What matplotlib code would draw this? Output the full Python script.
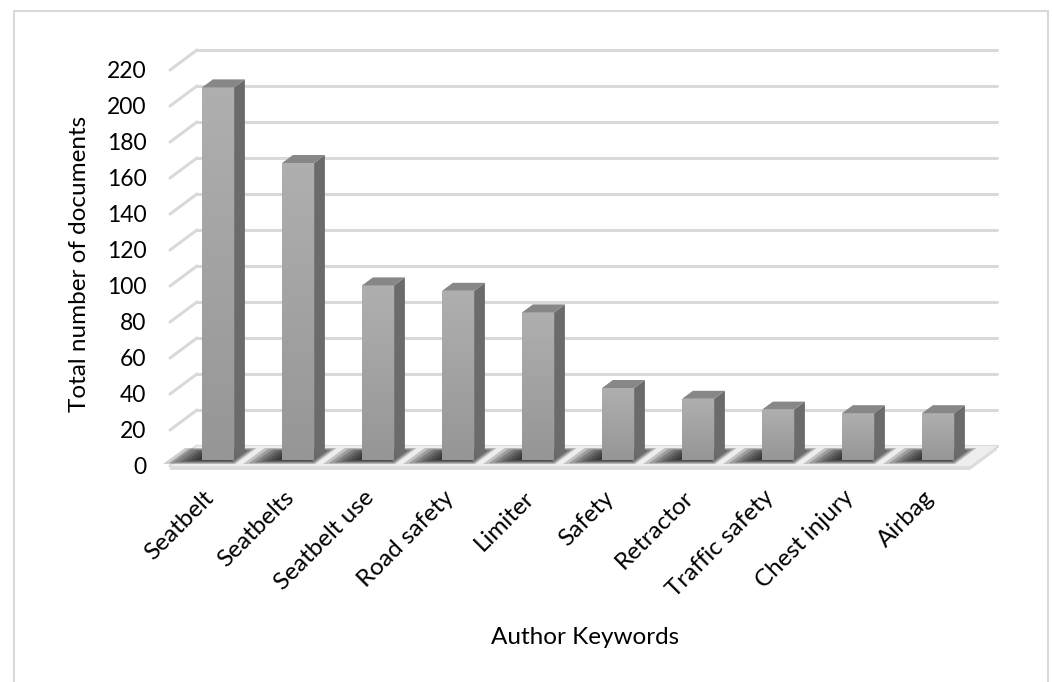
import matplotlib
matplotlib.use("Agg")
import matplotlib.pyplot as plt
import matplotlib.patches as mpatches
import matplotlib.transforms as mtrans
import numpy as np

keywords = ["Seatbelt", "Seatbelts", "Seatbelt use", "Road safety", "Limiter",
            "Safety", "Retractor", "Traffic safety", "Chest injury", "Airbag"]
documents = [207, 165, 97, 94, 82, 40, 34, 28, 26, 26]
y_ticks = list(range(0, 221, 20))

plt.rcParams['font.family'] = ['Lato', 'DejaVu Sans']

# pixel layout of the fake 3d box
px_x0, px_cat = 210, 80        # category 0 front centre, px per category
px_y0, px_val = 466, 1.8       # front floor line, px per unit
DX, DY = 27 / px_cat, 20 / px_val   # depth of the whole box (data units)
grid_c = "#d9d9d9"

fig = plt.figure(figsize=(10.52, 6.82), dpi=100)
ax = fig.add_axes([0, 0, 1, 1])
ax.set_facecolor("none")

n = len(keywords)
left, right = -0.5, n - 0.5

# back wall grid + side wall diagonals
for v in y_ticks:
    ax.plot([left + DX, right + DX], [v + DY, v + DY], color=grid_c, lw=2.2,
            solid_capstyle='round', zorder=1)
    ax.plot([left, left + DX], [v, v + DY], color=grid_c, lw=2.2,
            solid_capstyle='round', zorder=1)

# floor slab
thick = 2.2
floor = mpatches.Polygon([(left, 0), (right, 0), (right + DX, DY), (left + DX, DY)],
                         closed=True, facecolor="#eeeeee", edgecolor="none", zorder=2)
ax.add_patch(floor)
edge = mpatches.Polygon([(left, 0), (right, 0), (right + DX, DY), (right + DX, DY - thick),
                         (right, -thick), (left, -thick)],
                        closed=True, facecolor="#dcdcdc", edgecolor="none", zorder=2)
ax.add_patch(edge)

# soft shadows on the floor
bw = 0.4
d0, d1 = 0.3, 0.7
for i in range(n):
    for k in range(7):
        s = k * 0.03
        xa, xb = i - 0.62 + s * 2.0, i + 0.28 - s * 0.8
        da, db = 0.1 + s * 1.2, 0.9 - s * 1.2
        poly = [(xa + da * DX, da * DY), (xb + da * DX, da * DY),
                (xb + db * DX, db * DY), (xa + db * DX, db * DY)]
        ax.add_patch(mpatches.Polygon(poly, closed=True, facecolor="black",
                                      edgecolor="none", alpha=0.19, zorder=3))

# bars: front face with gradient, side and top faces
grad = np.linspace(0, 1, 64).reshape(-1, 1)
front_cmap = matplotlib.colors.LinearSegmentedColormap.from_list("g", ["#969696", "#afafaf"])
for i, v in enumerate(documents):
    xc = i + d0 * DX
    b = d0 * DY
    bar = ax.bar(xc, v, width=bw, bottom=b, color="#a4a4a4", edgecolor="none", zorder=4)[0]
    im = ax.imshow(grad, extent=[xc - bw / 2, xc + bw / 2, b, b + v], origin='lower',
                   cmap=front_cmap, aspect='auto', zorder=4.5)
    im.set_clip_path(bar)
    ddx, ddy = (d1 - d0) * DX, (d1 - d0) * DY
    x1 = xc + bw / 2
    side = [(x1, b), (x1 + ddx, b + ddy), (x1 + ddx, b + v + ddy), (x1, b + v)]
    ax.add_patch(mpatches.Polygon(side, closed=True, facecolor="#6b6b6b",
                                  edgecolor="none", zorder=5))
    top = [(xc - bw / 2, b + v), (x1, b + v), (x1 + ddx, b + v + ddy),
           (xc - bw / 2 + ddx, b + v + ddy)]
    ax.add_patch(mpatches.Polygon(top, closed=True, facecolor="#878787",
                                  edgecolor="none", zorder=5))

ax.set_xlim((0 - px_x0) / px_cat, (1052 - px_x0) / px_cat)
ax.set_ylim((px_y0 - 682) / px_val, px_y0 / px_val)

# axes ticks placed on the front edges
for s in ["top", "right"]:
    ax.spines[s].set_visible(False)
ax.spines["left"].set_position(("data", left))
ax.spines["bottom"].set_position(("data", 0))
ax.spines["left"].set_visible(False)
ax.spines["bottom"].set_visible(False)
ax.set_yticks(y_ticks)
ax.tick_params(axis="y", length=0, pad=17, labelsize=16.5)
ax.set_xticks(range(n))
ax.set_xticklabels(keywords, rotation=45, ha="right", rotation_mode="anchor", fontsize=17.5)
ax.tick_params(axis="x", length=0, pad=15)
off = mtrans.ScaledTranslation(-7 / 100, 0, fig.dpi_scale_trans)
for lab in ax.get_xticklabels():
    lab.set_transform(lab.get_transform() + off)

ax.set_ylabel("Total number of documents", fontsize=17.5)
ax.yaxis.set_label_coords(80 / 1052, 1 - 264 / 682)
ax.set_xlabel("Author Keywords", fontsize=17.5)
ax.xaxis.set_label_coords(585 / 1052, 1 - 638 / 682)
ax.xaxis.label.set_va("center")
ax.yaxis.label.set_va("center")

# chart area border
fig.add_artist(mpatches.Rectangle((13.5 / 1052, -0.05), (1048 - 13.5) / 1052,
                                  1.05 - 11 / 682, transform=fig.transFigure,
                                  fill=False, edgecolor=grid_c, lw=1.5))

fig.savefig("out.png", dpi=100)
